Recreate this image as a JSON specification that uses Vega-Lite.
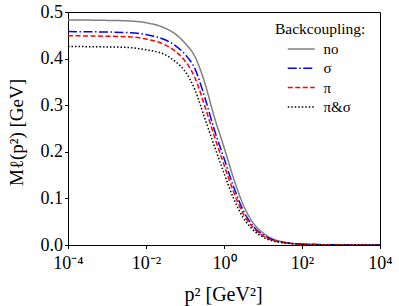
{
  "$schema": "https://vega.github.io/schema/vega-lite/v6.json",
  "width": 312,
  "height": 233,
  "autosize": {"type": "none"},
  "padding": {"left": 68, "top": 12, "right": 19, "bottom": 61},
  "background": "white",
  "config": {
    "view": {"stroke": "black", "strokeWidth": 1},
    "font": "Liberation Serif",
    "axis": {
      "grid": false,
      "domainColor": "black",
      "tickColor": "black",
      "labelColor": "black",
      "titleColor": "black",
      "labelFont": "Liberation Serif",
      "titleFont": "Liberation Serif",
      "labelFontSize": 18,
      "titleFontSize": 19,
      "titleFontWeight": "normal",
      "tickSize": 3.5,
      "domainWidth": 1
    },
    "legend": {
      "labelFont": "Liberation Serif",
      "titleFont": "Liberation Serif",
      "labelFontSize": 15,
      "titleFontSize": 15.5,
      "titleFontWeight": "normal",
      "labelColor": "black",
      "titleColor": "black"
    }
  },
  "data": {
    "values": [
      {"p2": 0.0001, "M": 0.483, "b": "no"},
      {"p2": 0.001, "M": 0.482, "b": "no"},
      {"p2": 0.00316, "M": 0.481, "b": "no"},
      {"p2": 0.01, "M": 0.477, "b": "no"},
      {"p2": 0.0316, "M": 0.465, "b": "no"},
      {"p2": 0.0562, "M": 0.453, "b": "no"},
      {"p2": 0.1, "M": 0.433, "b": "no"},
      {"p2": 0.178, "M": 0.405, "b": "no"},
      {"p2": 0.316, "M": 0.35, "b": "no"},
      {"p2": 0.562, "M": 0.275, "b": "no"},
      {"p2": 1, "M": 0.21, "b": "no"},
      {"p2": 1.778, "M": 0.142, "b": "no"},
      {"p2": 3.162, "M": 0.085, "b": "no"},
      {"p2": 5.623, "M": 0.047, "b": "no"},
      {"p2": 10, "M": 0.026, "b": "no"},
      {"p2": 17.78, "M": 0.013, "b": "no"},
      {"p2": 31.62, "M": 0.007, "b": "no"},
      {"p2": 100, "M": 0.002, "b": "no"},
      {"p2": 316.2, "M": 0.0008, "b": "no"},
      {"p2": 1000, "M": 0.0003, "b": "no"},
      {"p2": 10000, "M": 0.00005, "b": "no"},

      {"p2": 0.0001, "M": 0.458, "b": "σ"},
      {"p2": 0.001, "M": 0.457, "b": "σ"},
      {"p2": 0.00316, "M": 0.456, "b": "σ"},
      {"p2": 0.01, "M": 0.4515, "b": "σ"},
      {"p2": 0.0316, "M": 0.44, "b": "σ"},
      {"p2": 0.0562, "M": 0.428, "b": "σ"},
      {"p2": 0.1, "M": 0.409, "b": "σ"},
      {"p2": 0.178, "M": 0.379, "b": "σ"},
      {"p2": 0.316, "M": 0.319, "b": "σ"},
      {"p2": 0.562, "M": 0.248, "b": "σ"},
      {"p2": 1, "M": 0.186, "b": "σ"},
      {"p2": 1.778, "M": 0.124, "b": "σ"},
      {"p2": 3.162, "M": 0.073, "b": "σ"},
      {"p2": 5.623, "M": 0.04, "b": "σ"},
      {"p2": 10, "M": 0.022, "b": "σ"},
      {"p2": 17.78, "M": 0.0114, "b": "σ"},
      {"p2": 31.62, "M": 0.0062, "b": "σ"},
      {"p2": 100, "M": 0.0017, "b": "σ"},
      {"p2": 316.2, "M": 0.0007, "b": "σ"},
      {"p2": 1000, "M": 0.00025, "b": "σ"},
      {"p2": 10000, "M": 0.00005, "b": "σ"},

      {"p2": 0.0001, "M": 0.449, "b": "π"},
      {"p2": 0.001, "M": 0.448, "b": "π"},
      {"p2": 0.00316, "M": 0.447, "b": "π"},
      {"p2": 0.01, "M": 0.442, "b": "π"},
      {"p2": 0.0316, "M": 0.429, "b": "π"},
      {"p2": 0.0562, "M": 0.416, "b": "π"},
      {"p2": 0.1, "M": 0.395, "b": "π"},
      {"p2": 0.178, "M": 0.36, "b": "π"},
      {"p2": 0.316, "M": 0.3, "b": "π"},
      {"p2": 0.562, "M": 0.234, "b": "π"},
      {"p2": 1, "M": 0.172, "b": "π"},
      {"p2": 1.778, "M": 0.113, "b": "π"},
      {"p2": 3.162, "M": 0.066, "b": "π"},
      {"p2": 5.623, "M": 0.037, "b": "π"},
      {"p2": 10, "M": 0.02, "b": "π"},
      {"p2": 17.78, "M": 0.0099, "b": "π"},
      {"p2": 31.62, "M": 0.0056, "b": "π"},
      {"p2": 100, "M": 0.0016, "b": "π"},
      {"p2": 316.2, "M": 0.0007, "b": "π"},
      {"p2": 1000, "M": 0.0002, "b": "π"},
      {"p2": 10000, "M": 0.00004, "b": "π"},

      {"p2": 0.0001, "M": 0.426, "b": "π&σ"},
      {"p2": 0.001, "M": 0.425, "b": "π&σ"},
      {"p2": 0.00316, "M": 0.424, "b": "π&σ"},
      {"p2": 0.01, "M": 0.419, "b": "π&σ"},
      {"p2": 0.0316, "M": 0.408, "b": "π&σ"},
      {"p2": 0.0562, "M": 0.394, "b": "π&σ"},
      {"p2": 0.1, "M": 0.373, "b": "π&σ"},
      {"p2": 0.178, "M": 0.334, "b": "π&σ"},
      {"p2": 0.316, "M": 0.274, "b": "π&σ"},
      {"p2": 0.562, "M": 0.213, "b": "π&σ"},
      {"p2": 1, "M": 0.154, "b": "π&σ"},
      {"p2": 1.778, "M": 0.099, "b": "π&σ"},
      {"p2": 3.162, "M": 0.0575, "b": "π&σ"},
      {"p2": 5.623, "M": 0.032, "b": "π&σ"},
      {"p2": 10, "M": 0.017, "b": "π&σ"},
      {"p2": 17.78, "M": 0.0086, "b": "π&σ"},
      {"p2": 31.62, "M": 0.005, "b": "π&σ"},
      {"p2": 100, "M": 0.0014, "b": "π&σ"},
      {"p2": 316.2, "M": 0.0006, "b": "π&σ"},
      {"p2": 1000, "M": 0.0002, "b": "π&σ"},
      {"p2": 10000, "M": 0.00004, "b": "π&σ"}
    ]
  },
  "mark": {"type": "line", "interpolate": "monotone", "strokeWidth": 1.5, "clip": true},
  "encoding": {
    "x": {
      "field": "p2",
      "type": "quantitative",
      "scale": {"type": "log", "domain": [0.0001, 10000], "nice": false},
      "axis": {
        "values": [0.0001, 0.01, 1, 100, 10000],
        "labelExpr": "datum.value < 0.001 ? '10⁻⁴' : datum.value < 0.1 ? '10⁻²' : datum.value < 10 ? '10⁰' : datum.value < 1000 ? '10²' : '10⁴'",
        "labelFlush": false,
        "labelOverlap": false,
        "labelPadding": 6,
        "title": "p²  [GeV²]",
        "titleFontSize": 20,
        "titleX": 155,
        "titleY": 49,
        "titleBaseline": "middle",
        "titleAlign": "center"
      }
    },
    "y": {
      "field": "M",
      "type": "quantitative",
      "scale": {"domain": [0, 0.5], "nice": false},
      "axis": {
        "values": [0, 0.1, 0.2, 0.3, 0.4, 0.5],
        "format": ".1f",
        "labelPadding": 2,
        "title": "Mℓ(p²)  [GeV]",
        "titleX": -52,
        "titleY": 120,
        "titleAngle": -90,
        "titleBaseline": "middle",
        "titleAlign": "center"
      }
    },
    "color": {
      "field": "b",
      "type": "nominal",
      "sort": ["no", "σ", "π", "π&σ"],
      "scale": {"domain": ["no", "σ", "π", "π&σ"], "range": ["#808080", "#0000ff", "#ff0000", "#000000"]},
      "legend": {
        "title": "Backcoupling:",
        "orient": "none",
        "legendX": 207,
        "legendY": 10,
        "padding": 0,
        "symbolType": "M-2,0H2",
        "symbolSize": 182,
        "symbolStrokeWidth": 1.5,
        "symbolOffset": 18.75,
        "labelOffset": 14.75,
        "rowPadding": 3.3,
        "titlePadding": 4
      }
    },
    "strokeDash": {
      "field": "b",
      "type": "nominal",
      "sort": ["no", "σ", "π", "π&σ"],
      "scale": {"domain": ["no", "σ", "π", "π&σ"], "range": [[1, 0], [9, 2.5, 1.5, 2.5], [5, 2.5], [1.5, 2]]},
      "legend": {
        "title": "Backcoupling:",
        "orient": "none",
        "legendX": 207,
        "legendY": 10,
        "padding": 0,
        "symbolType": "M-2,0H2",
        "symbolSize": 182,
        "symbolStrokeWidth": 1.5,
        "symbolOffset": 18.75,
        "labelOffset": 14.75,
        "rowPadding": 3.3,
        "titlePadding": 4
      }
    }
  }
}
